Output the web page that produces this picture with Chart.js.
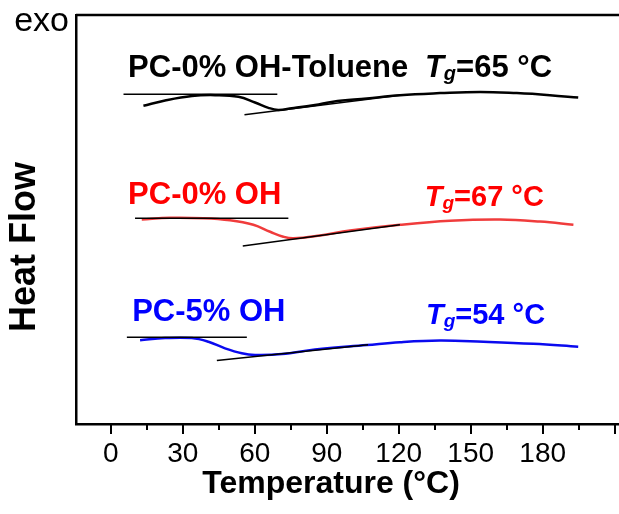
<!DOCTYPE html>
<html>
<head>
<meta charset="utf-8">
<script src="https://cdn.jsdelivr.net/npm/chart.js@4/dist/chart.umd.min.js"></script>
<style>
    html, body { margin: 0; padding: 0; background: #fff; overflow: hidden; }
</style>
</head>
<body>
<canvas id="dsc" width="619" height="514"></canvas>
<script>
// DSC - heat flow (a.u., exo up) vs temperature

const tempToluene = [13.6, 22.6, 33.8, 43.5, 53.2, 60.1, 65.7, 69.8, 75.4, 85.1, 92.6, 106.7, 120.5, 137.2, 153.9, 169.2, 183, 194.8];
const hfToluene = [7.78, 7.91, 8.02, 8.04, 8.00, 7.86, 7.73, 7.68, 7.72, 7.80, 7.88, 7.96, 8.04, 8.09, 8.12, 8.09, 8.04, 7.98];

const temp0 = [12.9, 24.7, 38.6, 49.7, 59.4, 66.4, 71.9, 76.1, 87.2, 99.7, 120.5, 141.4, 162.2, 178.9, 192.8];
const hf0 = [5.00, 5.04, 5.03, 4.98, 4.87, 4.70, 4.58, 4.54, 4.61, 4.73, 4.87, 4.97, 5.00, 4.95, 4.87];

const temp5 = [12.2, 22.6, 33.8, 40.7, 47.6, 54.6, 60.1, 71.3, 85.1, 106.7, 120.5, 137.2, 155.3, 176.1, 194.8];
const hf5 = [2.05, 2.10, 2.10, 2.01, 1.85, 1.73, 1.69, 1.71, 1.82, 1.93, 2.00, 2.04, 2.01, 1.96, 1.89];

// tangent lines used for Tg (start, end)
const tanTolueneX = [[5.3, 69.4], [55.7, 120.5]];
const tanTolueneY = [[8.06, 8.06], [7.56, 8.04]];
const tan0X = [[10.1, 74], [55, 120.5]];
const tan0Y = [[5.03, 5.03], [4.35, 4.87]];
const tan5X = [[6.7, 56.7], [44.2, 107.2]];
const tan5Y = [[2.12, 2.12], [1.55, 1.94]];

const sampleNames = ["PC-0% OH-Toluene", "PC-0% OH", "PC-5% OH"];
const tgValues = [65, 67, 54];
const xTicks = [0, 30, 60, 90, 120, 150, 180];

const textColors = ["#000000", "#ff0000", "#0000ff"];
const lineColors = ["#000000", "#f03c3c", "#0a0aef"];

function pts(xs, ys) {
    return xs.map((v, i) => ({ x: v, y: ys[i] }));
}

const datasets = [];
[[tanTolueneX, tanTolueneY], [tan0X, tan0Y], [tan5X, tan5Y]].forEach(pair => {
    pair[0].forEach((xs, k) => {
        datasets.push({
            data: pts(xs, pair[1][k]),
            borderColor: "#000",
            borderWidth: 1.5,
            pointRadius: 0,
            tension: 0,
            order: 0
        });
    });
});
[[tempToluene, hfToluene], [temp0, hf0], [temp5, hf5]].forEach((pair, i) => {
    datasets.push({
        data: pts(pair[0], pair[1]),
        borderColor: lineColors[i],
        borderWidth: 2.5,
        pointRadius: 0,
        tension: 0.4,
        order: 1
    });
});

// label anchors in data units: [name x, name y, Tg right x, Tg y, Tg font size]
const labelAnchors = [
    [7.2, 8.70, 183.9, 8.70, 31],
    [7.2, 5.60, 180.5, 5.53, 29],
    [8.9, 2.72, 181, 2.64, 29]
];

const FONT = '"Liberation Sans", Arial, sans-serif';

const dscLabels = {
    id: "dscLabels",
    afterDraw(chart) {
        const { ctx, chartArea, scales: { x, y } } = chart;
        ctx.save();
        ctx.strokeStyle = "#000";
        ctx.lineWidth = 2.5;
        // top frame
        ctx.beginPath();
        ctx.moveTo(chartArea.left, chartArea.top);
        ctx.lineTo(chartArea.right + 2, chartArea.top);
        ctx.stroke();
        // ticks out of the x axis
        ctx.lineWidth = 2;
        x.ticks.forEach(t => {
            const px = Math.round(x.getPixelForValue(t.value));
            const len = t.value % 30 === 0 ? 10 : 6;
            ctx.beginPath();
            ctx.moveTo(px, chartArea.bottom);
            ctx.lineTo(px, chartArea.bottom + len);
            ctx.stroke();
        });

        ctx.textBaseline = "middle";
        sampleNames.forEach((name, i) => {
            const a = labelAnchors[i];
            ctx.fillStyle = textColors[i];
            ctx.textAlign = "left";
            ctx.font = "bold 31px " + FONT;
            ctx.fillText(name, x.getPixelForValue(a[0]), y.getPixelForValue(a[1]));

            // T_g=.. °C
            const fs = a[4];
            const sub = Math.round(fs * 0.65);
            const rest = "=" + tgValues[i] + " \u00B0C";
            const ty = y.getPixelForValue(a[3]);
            ctx.font = "italic bold " + fs + "px " + FONT;
            const wT = ctx.measureText("T").width;
            ctx.font = "italic bold " + sub + "px " + FONT;
            const wg = ctx.measureText("g").width;
            ctx.font = "bold " + fs + "px " + FONT;
            const wr = ctx.measureText(rest).width;
            let px = x.getPixelForValue(a[2]) - (wT + wg + wr);
            ctx.font = "italic bold " + fs + "px " + FONT;
            ctx.fillText("T", px, ty);
            px += wT;
            ctx.font = "italic bold " + sub + "px " + FONT;
            ctx.fillText("g", px, ty + 6);
            px += wg;
            ctx.font = "bold " + fs + "px " + FONT;
            ctx.fillText(rest, px, ty);
        });

        // axis titles
        ctx.fillStyle = "#000";
        ctx.textAlign = "center";
        ctx.font = "bold 32px " + FONT;
        ctx.fillText("Temperature (\u00B0C)", 331, 484);

        ctx.save();
        ctx.translate(25, 247);
        ctx.rotate(-Math.PI / 2);
        ctx.font = "bold 36px " + FONT;
        ctx.fillText("Heat Flow", 0, 0);
        ctx.restore();

        ctx.textAlign = "right";
        ctx.font = "34px " + FONT;
        ctx.fillText("exo", 69, 22);
        ctx.restore();
    }
};

new Chart(document.getElementById("dsc"), {
    type: "line",
    data: { datasets: datasets },
    options: {
        responsive: false,
        animation: false,
        layout: { padding: { top: 15, left: 0, right: 0, bottom: 0 } },
        plugins: {
            legend: { display: false },
            tooltip: { enabled: false }
        },
        scales: {
            x: {
                type: "linear",
                min: -14.5,
                max: 211.8,
                grid: { display: false, drawTicks: true, tickLength: 10 },
                border: { display: true, color: "#000", width: 2.5 },
                ticks: {
                    stepSize: 15,
                    includeBounds: false,
                    autoSkip: false,
                    maxRotation: 0,
                    padding: 3,
                    color: "#000",
                    font: { family: FONT, size: 28 },
                    callback: v => xTicks.includes(v) ? String(v) : ""
                },
                afterFit: s => { s.height = 90; }
            },
            y: {
                type: "linear",
                min: 0,
                max: 10,
                grid: { display: false, drawTicks: false },
                border: { display: true, color: "#000", width: 2.5 },
                ticks: { display: false },
                afterFit: s => { s.width = 76; }
            }
        }
    },
    plugins: [dscLabels]
});
</script>
</body>
</html>
